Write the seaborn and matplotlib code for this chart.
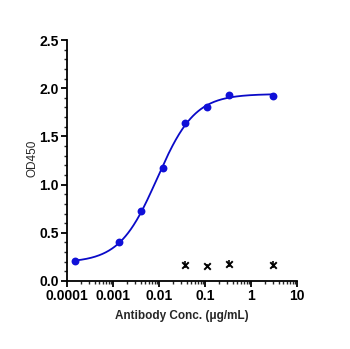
import numpy as np
import pandas as pd
import matplotlib
matplotlib.use("Agg")
import matplotlib.pyplot as plt
import matplotlib.ticker as mticker
import seaborn as sns

# Data
conc = [0.000152, 0.00137, 0.00412, 0.0123, 0.037, 0.111, 0.333, 3.0]
od450 = [0.21, 0.40, 0.73, 1.17, 1.64, 1.81, 1.93, 1.92]
ctrl_conc = [0.037, 0.111, 0.333, 3.0]
ctrl_od = [0.17, 0.16, 0.18, 0.17]
ctrl_err = [0.035, 0.015, 0.035, 0.04]
x_ticks = [0.0001, 0.001, 0.01, 0.1, 1, 10]
x_labels = ["0.0001", "0.001", "0.01", "0.1", "1", "10"]
y_ticks = [0.0, 0.5, 1.0, 1.5, 2.0, 2.5]

# 4PL fit by coarse grid search (least squares)
lx = np.log10(np.array(conc))
yv = np.array(od450)
best = None
for bot in np.linspace(0.10, 0.30, 21):
    for top in np.linspace(1.85, 2.05, 21):
        for lec in np.linspace(-2.3, -1.7, 31):
            for h in np.linspace(0.7, 1.6, 31):
                pred = bot + (top - bot) / (1 + 10 ** ((lec - lx) * h))
                sse = np.sum((pred - yv) ** 2)
                if best is None or sse < best[0]:
                    best = (sse, bot, top, lec, h)
_, bot, top, lec, h = best
xf = np.logspace(np.log10(conc[0]), np.log10(conc[-1]), 300)
yf = bot + (top - bot) / (1 + 10 ** ((lec - np.log10(xf)) * h))

sns.set_style("ticks")
plt.rcParams['font.family'] = ['Liberation Sans', 'DejaVu Sans']

fig = plt.figure(figsize=(3.5, 3.49), dpi=100)
ax = fig.add_axes([67/350, 1 - 281/349, 230/350, 241/349])

blue = "#1010d8"
sns.lineplot(x=xf, y=yf, ax=ax, color="#0a0ac8", linewidth=1.3)
sns.scatterplot(x=conc, y=od450, ax=ax, color=blue, s=32, edgecolor=blue, linewidth=0, zorder=3)
ax.errorbar(ctrl_conc, ctrl_od, yerr=ctrl_err, fmt='none', ecolor='black', elinewidth=1.2, capsize=0, zorder=4)
sns.scatterplot(x=ctrl_conc, y=ctrl_od, ax=ax, marker='x', color='black', s=22, linewidth=1.4, zorder=5)

ax.set_xscale('log')
ax.set_xlim(0.0001, 10)
ax.set_ylim(0, 2.5)
ax.set_xticks(x_ticks)
ax.set_xticklabels(x_labels)
ax.xaxis.set_minor_locator(mticker.LogLocator(base=10, subs=np.arange(2, 10), numticks=20))
ax.xaxis.set_minor_formatter(mticker.NullFormatter())
ax.set_yticks(y_ticks)
ax.set_yticklabels([f"{v:.1f}" for v in y_ticks])
ax.yaxis.set_minor_locator(mticker.MultipleLocator(0.1))

for s in ['top', 'right']:
    ax.spines[s].set_visible(False)
for s in ['left', 'bottom']:
    ax.spines[s].set_linewidth(1.3)
    ax.spines[s].set_color('black')
ax.tick_params(axis='both', which='major', length=4, width=1.3, direction='out', labelsize=10, pad=2, colors='black')
ax.tick_params(axis='both', which='minor', length=2.5, width=1.0, direction='out')
for lab in ax.get_xticklabels() + ax.get_yticklabels():
    lab.set_fontweight('bold')

ax.set_xlabel("Antibody Conc. (μg/mL)", fontsize=8.5, fontweight='bold', labelpad=5)
ax.set_ylabel("OD450", fontsize=8.5)
ax.yaxis.set_label_coords(-0.125, 0.51)

fig.savefig("out.png", dpi=100)
